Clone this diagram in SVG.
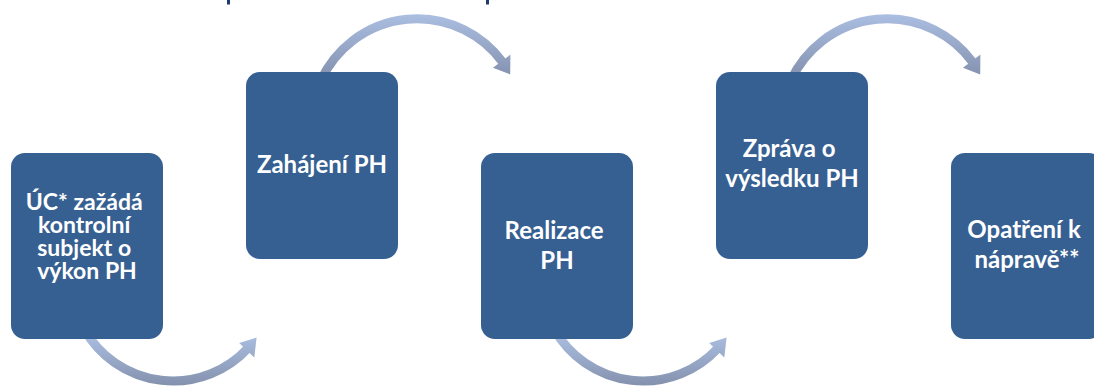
<svg xmlns="http://www.w3.org/2000/svg" width="1094" height="388" viewBox="0 0 1094 388">
  <defs>
    <style>
      .box { fill: #376092; }
      .lbl { font-family: Lato, "Liberation Sans", sans-serif; font-weight: 700; font-size: 24px; fill: #ffffff; text-anchor: middle; }
      .lbl.tight { font-size: 23px; }
      .shaft { fill: none; stroke-width: 9; stroke-linecap: butt; }
      .title-frag { fill: #1f3a70; }
    </style>
    <!-- vertical shading for the upper and lower curved arrows -->
    <linearGradient id="gTop" gradientUnits="userSpaceOnUse" x1="0" y1="14" x2="0" y2="76">
      <stop offset="0" stop-color="#abbfe2"/>
      <stop offset="1" stop-color="#8592b0"/>
    </linearGradient>
    <linearGradient id="gBot" gradientUnits="userSpaceOnUse" x1="0" y1="334" x2="0" y2="386">
      <stop offset="0" stop-color="#abbfe2"/>
      <stop offset="1" stop-color="#8491ad"/>
    </linearGradient>
  </defs>

  <rect width="1094" height="388" fill="#ffffff"/>

  <!-- fragments of the heading above the frame -->
  <rect class="title-frag" x="227" y="0" width="3" height="4.5"/>
  <rect class="title-frag" x="486" y="0" width="3" height="4.5"/>

  <!-- curved connectors between steps -->
  <g id="connectors">
    <!-- upper arc: step 2 -> step 3 -->
    <g id="arc-2-3">
      <path class="shaft" stroke="url(#gTop)" d="M321,80.2 A106,106 0 0 1 502.8,62.3"/>
      <polygon fill="url(#gTop)" points="492.9,67.8 510.4,54.6 510.2,74.4"/>
    </g>
    <!-- upper arc: step 4 -> step 5 -->
    <g id="arc-4-5">
      <path class="shaft" stroke="url(#gTop)" d="M791,80.2 A106,106 0 0 1 972.8,62.3"/>
      <polygon fill="url(#gTop)" points="962.9,67.8 980.4,54.6 980.2,74.4"/>
    </g>
    <!-- lower arc: step 1 -> step 2 -->
    <g id="arc-1-2">
      <path class="shaft" stroke="url(#gBot)" d="M84.7,330 A102,102 0 0 0 247.6,348.6"/>
      <polygon fill="url(#gBot)" points="239.2,342.9 254.3,357.5 256.6,337.5"/>
    </g>
    <!-- lower arc: step 3 -> step 4 -->
    <g id="arc-3-4">
      <path class="shaft" stroke="url(#gBot)" d="M554.7,330 A102,102 0 0 0 717.6,348.6"/>
      <polygon fill="url(#gBot)" points="709.2,342.9 724.3,357.5 726.6,337.5"/>
    </g>
  </g>

  <!-- steps -->
  <g id="step1">
    <rect class="box" x="11" y="153" width="152" height="186" rx="14"/>
    <text class="lbl tight">
      <tspan x="87" y="210">ÚC* zažádá</tspan>
      <tspan x="87" y="233">kontrolní</tspan>
      <tspan x="87" y="256">subjekt o</tspan>
      <tspan x="87" y="279">výkon PH</tspan>
    </text>
  </g>

  <g id="step2">
    <rect class="box" x="246" y="72" width="152" height="187" rx="14"/>
    <text class="lbl" x="322" y="173">Zahájení PH</text>
  </g>

  <g id="step3">
    <rect class="box" x="481" y="153" width="152" height="186" rx="14"/>
    <text class="lbl">
      <tspan x="557" y="239">Realizace</tspan>
      <tspan x="557" y="269">PH</tspan>
    </text>
  </g>

  <g id="step4">
    <rect class="box" x="716" y="72" width="152" height="187" rx="14"/>
    <text class="lbl">
      <tspan x="792" y="157">Zpráva o</tspan>
      <tspan x="792" y="187">výsledku PH</tspan>
    </text>
  </g>

  <g id="step5">
    <rect class="box" x="951" y="153" width="152" height="186" rx="14"/>
    <text class="lbl">
      <tspan x="1027" y="238">Opatření k</tspan>
      <tspan x="1027" y="268">nápravě**</tspan>
    </text>
  </g>
</svg>
